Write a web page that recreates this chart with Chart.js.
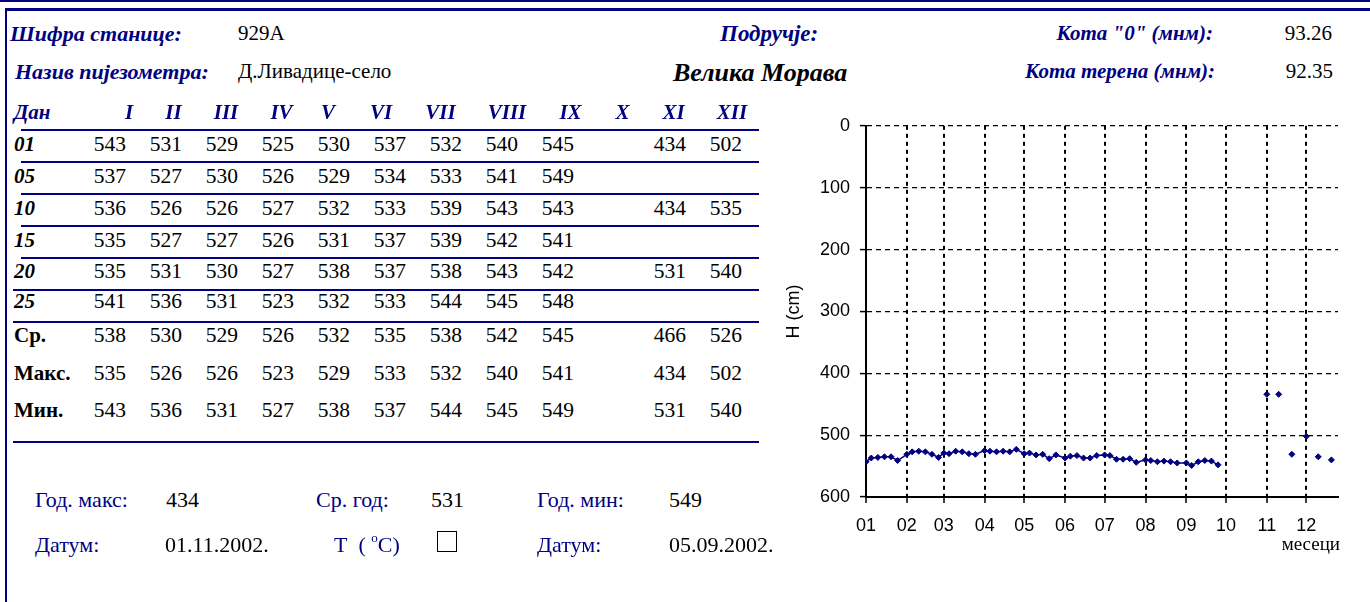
<!DOCTYPE html>
<html>
<head>
<meta charset="utf-8">
<script src="https://cdn.jsdelivr.net/npm/chart.js@4.4.1/dist/chart.umd.min.js"></script>
<style>
  html,body{margin:0;padding:0;background:#fff;}
  body{width:1370px;height:602px;position:relative;overflow:hidden;}
  .t{position:absolute;white-space:nowrap;}
  .hl{position:absolute;background:#000080;}
</style>
</head>
<body>
<div class="hl" style="left:0;top:0;width:1370px;height:2px;"></div>
<div class="hl" style="left:5px;top:8px;width:1365px;height:3px;"></div>
<div class="hl" style="left:5px;top:8px;width:2px;height:594px;"></div>
<div id="wrap" style="position:absolute;left:770px;top:105px;width:590px;height:470px;"><canvas id="c"></canvas></div>
<div id="chk" style="position:absolute;left:437px;top:531px;width:20px;height:21px;border:1px solid #000;box-sizing:border-box;"></div>
<script>
// ---------- data ----------
const monthHeaders = ['I','II','III','IV','V','VI','VII','VIII','IX','X','XI','XII'];
const monthTickLabels = ['01','02','03','04','05','06','07','08','09','10','11','12'];
const dayLabels = ['01','05','10','15','20','25'];
const obsDays = [1,5,10,15,20,25];
const day01 = [543,531,529,525,530,537,532,540,545,null,434,502];
const day05 = [537,527,530,526,529,534,533,541,549,null,null,null];
const day10 = [536,526,526,527,532,533,539,543,543,null,434,535];
const day15 = [535,527,527,526,531,537,539,542,541,null,null,null];
const day20 = [535,531,530,527,538,537,538,543,542,null,531,540];
const day25 = [541,536,531,523,532,533,544,545,548,null,null,null];
const avgRow = [538,530,529,526,532,535,538,542,545,null,466,526];
const maxRow = [535,526,526,523,529,533,532,540,541,null,434,502];
const minRow = [543,536,531,527,538,537,544,545,549,null,531,540];
const summaryLabels = ['Ср.','Макс.','Мин.'];
const yTicks = [0,100,200,300,400,500,600];

// ---------- text helpers ----------
const SERIF = '"Liberation Serif","Times New Roman",serif';
const SANS = '"Liberation Sans",Arial,sans-serif';
function place(text, x, baseline, o){
  o = o || {};
  const fs = o.size || 21;
  const fam = o.family || SERIF;
  const asc = fam === SANS ? 0.8465 : 0.8375;
  const d = document.createElement('div');
  d.className = 't';
  d.innerHTML = text;
  d.style.fontFamily = fam;
  d.style.fontSize = fs + 'px';
  d.style.lineHeight = fs + 'px';
  d.style.fontWeight = o.weight || 'normal';
  d.style.fontStyle = o.style || 'normal';
  d.style.color = o.color || '#000';
  d.style.top = (baseline - asc * fs) + 'px';
  if (o.align === 'right') { d.style.right = (1370 - x) + 'px'; d.style.textAlign = 'right'; }
  else if (o.align === 'center') { d.style.left = (x - 100) + 'px'; d.style.width = '200px'; d.style.textAlign = 'center'; }
  else d.style.left = x + 'px';
  document.body.appendChild(d);
  return d;
}
const NAVY = '#000080';
const lbl = {weight:'bold', style:'italic', color:NAVY, size:22};
// header
place('Шифра станице:', 10, 41, lbl);
place('929A', 238, 41, {size:21});
place('Назив пијезометра:', 15, 79, lbl);
place('Д.Ливадице-село', 238, 79, {size:21});
place('Подручје:', 720, 41, Object.assign({}, lbl, {size:23}));
place('Велика Морава', 673, 82, {weight:'bold', style:'italic', size:26});
place('Кота "0" (мнм):', 1213, 41, Object.assign({align:'right'}, lbl, {size:21}));
place('93.26', 1332, 41, {size:21, align:'right'});
place('Кота терена (мнм):', 1215, 79, Object.assign({align:'right'}, lbl, {size:21}));
place('92.35', 1333, 79, {size:21, align:'right'});

// table
const colRight = 126, colStep = 56;
const headerCenters = [129,173.5,226,281.5,328,381,440.5,507,570.5,622.5,673.5,732];
const hdr = Object.assign({}, lbl, {size:21});
place('Дан', 14, 120, hdr);
monthHeaders.forEach((h,i)=>place(h, headerCenters[i], 120, Object.assign({align:'center'}, hdr)));
const dayRowsData = [day01,day05,day10,day15,day20,day25];
const rowBase = [152,184,216,248,279,309];
dayRowsData.forEach((row,r)=>{
  place(dayLabels[r], 14, rowBase[r], {weight:'bold', style:'italic', size:21});
  row.forEach((v,i)=>{ if(v!==null) place(String(v), colRight + colStep*i, rowBase[r], {size:21.5, align:'right'}); });
});
const sumRows = [avgRow,maxRow,minRow];
const sumBase = [343,381,418];
sumRows.forEach((row,r)=>{
  place(summaryLabels[r], 14, sumBase[r], {weight:'bold', size:21});
  row.forEach((v,i)=>{ if(v!==null) place(String(v), colRight + colStep*i, sumBase[r], {size:21.5, align:'right'}); });
});
function hline(x1,x2,y){const d=document.createElement('div');d.className='hl';d.style.left=x1+'px';d.style.width=(x2-x1)+'px';d.style.top=y+'px';d.style.height='1.5px';document.body.appendChild(d);}
[129,161,193,225,257].forEach(y=>hline(21,759,y));
hline(13,759,289);
hline(13,759,321);
hline(13,759,441);

// footer
const fl = {size:22, color:NAVY};
const fv = {size:22};
place('Год. макс:', 35, 507, fl);
place('434', 166, 507, fv);
place('Ср. год:', 316, 507, fl);
place('531', 431, 507, fv);
place('Год. мин:', 537, 507, fl);
place('549', 669, 507, fv);
place('Датум:', 35, 552, fl);
place('01.11.2002.', 165, 552, fv);
place('T&nbsp;&nbsp;(&nbsp;<span style="position:relative;top:-10px;font-size:13px;">o</span>C)', 334, 552, fl);
place('Датум:', 537, 552, fl);
place('05.09.2002.', 669, 552, fv);
place('месеци', 1340, 550, {size:19, align:'right'});

// ---------- chart ----------
const Y0 = new Date(2002,0,1).getTime();
const dayOf = (m,d)=> Math.round((new Date(2002,m,d).getTime()-Y0)/86400000);
const monthStarts = monthTickLabels.map((_,m)=>dayOf(m,1));
const points = [];
for (let m=0;m<12;m++){
  dayRowsData.forEach((row,r)=>{ points.push({x: dayOf(m, obsDays[r]), y: row[m]}); });
}
new Chart(document.getElementById('c'), {
  type:'line',
  data:{datasets:[{
    data: points,
    borderColor: NAVY, backgroundColor: NAVY,
    borderWidth: 1.5,
    pointStyle:'rectRot', pointRadius:3, pointBorderWidth:1,
    pointBackgroundColor: NAVY, pointBorderColor: NAVY,
    spanGaps:false, tension:0
  }]},
  options:{
    responsive:true, maintainAspectRatio:false, animation:false,
    layout:{padding:{left:0,right:22,top:20,bottom:0}},
    plugins:{legend:{display:false}, tooltip:{enabled:false}},
    scales:{
      x:{
        type:'linear', min:0, max:358,
        afterBuildTicks:(s)=>{ s.ticks = monthStarts.map(v=>({value:v})); },
        afterFit:(s)=>{ s.height = 78; },
        ticks:{autoSkip:false, maxRotation:0, padding:12, color:'#000',
          font:{family:SANS, size:18},
          callback:(v,i)=>monthTickLabels[i]},
        grid:{color:'#000', lineWidth:2, drawTicks:true, tickLength:6, tickColor:'#000', tickWidth:1.5, tickBorderDash:[]},
        border:{display:true, color:'#000', width:2, dash:[4,4]}
      },
      y:{
        reverse:true, min:0, max:600,
        afterBuildTicks:(s)=>{ s.ticks = yTicks.map(v=>({value:v})); },
        afterFit:(s)=>{ s.width = 96; },
        ticks:{padding:10, color:'#000', font:{family:SANS, size:18}},
        title:{display:true, text:'H (cm)', color:'#000', font:{family:SANS, size:18}, padding:{top:13,bottom:0}},
        grid:{color:'#000', lineWidth:1.2, drawTicks:true, tickLength:6, tickColor:'#000', tickWidth:1.5, tickBorderDash:[]},
        border:{display:true, color:'#000', width:2, dash:[5,4]}
      }
    }
  }
});
</script>
</body>
</html>
